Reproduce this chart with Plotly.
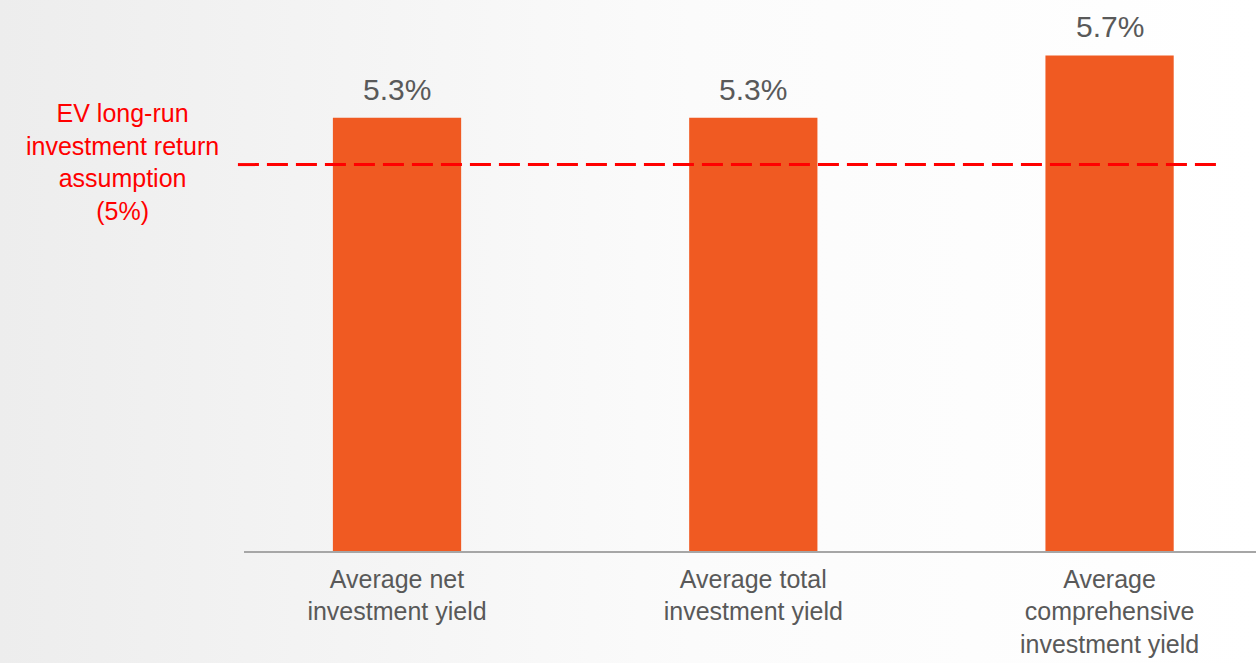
import plotly.graph_objects as go
import urllib.parse

categories = ["Average net<br>investment yield",
              "Average total<br>investment yield",
              "Average<br>comprehensive<br>investment yield"]
values = [5.3, 5.3, 5.7]
value_labels = ["5.3%", "5.3%", "5.7%"]
assumption_value = 5.0
assumption_label = "EV long-run<br>investment return<br>assumption<br>(5%)"

bar_color = "#F05A22"
grey_text = "#595959"
red = "#FF0000"

W, H = 1256, 663
ML, MB = 244, 112
PW, PH = W - ML, H - MB

idx = list(range(len(categories)))

fig = go.Figure()
fig.add_trace(go.Bar(
    x=idx, y=values, width=0.36, marker=dict(color=bar_color, line=dict(width=0)),
    hoverinfo="skip", showlegend=False,
))

for i, v, t in zip(idx, values, value_labels):
    fig.add_annotation(x=i, y=v, text=t, showarrow=False, yanchor="bottom",
                       yshift=10, font=dict(family="Liberation Sans, Arial", size=30, color=grey_text))

fig.add_shape(type="line", xref="paper", yref="y", x0=-0.006, x1=0.968,
              y0=assumption_value, y1=assumption_value,
              line=dict(color=red, width=3, dash="21px,8px"))

fig.add_annotation(xref="paper", yref="y", x=(122 - ML) / PW, y=assumption_value,
                   text=assumption_label, showarrow=False, xanchor="center", yanchor="middle",
                   yshift=3, align="center",
                   font=dict(family="Liberation Sans, Arial", size=25, color=red))

svg = ("<svg xmlns='http://www.w3.org/2000/svg' width='1256' height='663'>"
       "<defs><linearGradient id='g' x1='0' y1='0' x2='1' y2='0'>"
       "<stop offset='0' stop-color='#ededed'/><stop offset='0.55' stop-color='#fbfbfb'/>"
       "<stop offset='1' stop-color='#ffffff'/></linearGradient></defs>"
       "<rect width='1256' height='663' fill='url(#g)'/></svg>")
src = "data:image/svg+xml;charset=utf-8," + urllib.parse.quote(svg)
fig.add_layout_image(source=src, xref="paper", yref="paper",
                     x=-ML / PW, y=1.0, sizex=W / PW, sizey=H / PH,
                     xanchor="left", yanchor="top", sizing="stretch", layer="below")

fig.update_layout(
    width=W, height=H,
    margin=dict(l=ML, r=0, t=0, b=MB),
    paper_bgcolor="white", plot_bgcolor="rgba(0,0,0,0)",
    bargap=0.64,
    xaxis=dict(range=[-0.4295, 2.411], tickmode="array", tickvals=idx, ticktext=categories,
               showline=True, linecolor="#A6A6A6", linewidth=1.5, showgrid=False,
               zeroline=False, ticks="", ticklabelstandoff=5,
               tickfont=dict(family="Liberation Sans, Arial", size=25, color=grey_text)),
    yaxis=dict(range=[2.523, 6.055], visible=False, showgrid=False, zeroline=False),
)

fig.write_html("out.html")
